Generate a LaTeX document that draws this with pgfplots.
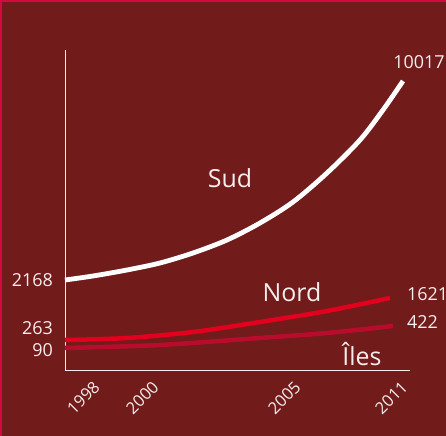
\documentclass[border=0pt]{standalone}
\usepackage{pgfplots}
\pgfplotsset{compat=1.18}
\usepackage{fontspec}
\setmainfont{Open Sans}
\definecolor{bg}{HTML}{711B1B}
\definecolor{frame}{HTML}{D50A3C}
\definecolor{nord}{HTML}{E2001E}
\definecolor{iles}{HTML}{B80C2C}
\definecolor{txt}{HTML}{F7EDED}
\tikzset{lbl/.style={text=txt, inner sep=0pt, font=\fontsize{18}{18}\selectfont},
         big/.style={text=txt, inner sep=0pt, font=\fontsize{25}{25}\selectfont}}
\begin{document}
\begin{tikzpicture}
\useasboundingbox (0,0) rectangle (446bp,436bp);
\fill[bg] (0,0) rectangle (446bp,436bp);
\fill[frame] (0,434bp) rectangle (446bp,436bp);
\fill[frame] (0,0) rectangle (2bp,436bp);
\begin{axis}[
  at={(65bp,66bp)}, anchor=south west,
  scale only axis, width=345bp, height=320bp,
  xmin=65, xmax=410, ymin=0, ymax=320,
  axis x line=bottom, axis y line=left,
  axis line style={txt, line width=0.9bp, -},
  ytick=\empty,
  xtick={99,158,300,407},
  xticklabels={1998,2000,2005,2011},
  major tick length=0pt,
  xticklabel style={rotate=45, anchor=east, font=\fontsize{16.5}{16.5}\selectfont, text=txt},
  xticklabel shift=12bp,
  clip=false,
]
\addplot[white, line width=4.8bp, smooth] coordinates {
 (65,90) (93,94) (127,100) (160,107) (193,117) (227,130) (260,147) (293,168) (327,197) (360,230) (383,260) (403,289)};
\addplot[nord, line width=4.5bp, smooth] coordinates {
 (65,30) (127,32) (193,38) (260,48) (327,59) (390,72)};
\addplot[iles, line width=4.5bp, smooth] coordinates {
 (65,22) (160,25) (260,32) (327,37) (393,44)};
\node[lbl] at (axis cs:419,308) {10017};
\node[lbl, anchor=east] at (axis cs:53,90) {2168};
\node[lbl, anchor=east] at (axis cs:53,42) {263};
\node[lbl, anchor=east] at (axis cs:53,20) {90};
\node[lbl, anchor=west] at (axis cs:407,76) {1621};
\node[lbl, anchor=west] at (axis cs:407,48) {422};
\node[big] at (axis cs:230,192) {Sud};
\node[big] at (axis cs:292,78) {Nord};
\node[big, anchor=base] at (axis cs:362,5) {Îles};
\end{axis}
\end{tikzpicture}
\end{document}
